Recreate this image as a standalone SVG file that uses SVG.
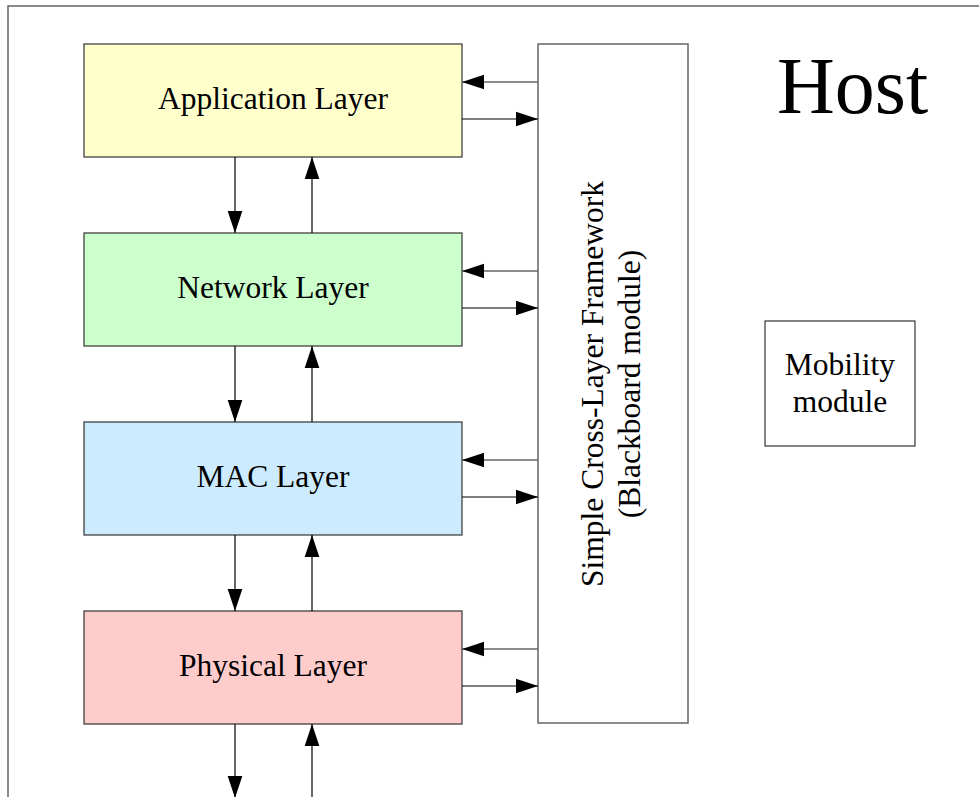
<svg xmlns="http://www.w3.org/2000/svg" width="979" height="797" viewBox="0 0 979 797">
<style>
text{font-family:"Liberation Serif","Times New Roman",serif;fill:#000}
.lbl{font-size:31.5px;text-anchor:middle}
.box{stroke:#333;stroke-width:1.2}
.ln{stroke:#000;stroke-width:1.2;fill:none;marker-end:url(#ah)}
.lg{stroke:#666;stroke-width:1.5;fill:none;marker-end:url(#ah)}
</style>
<defs>
<marker id="ah" markerUnits="userSpaceOnUse" markerWidth="22" markerHeight="16" viewBox="0 0 21 14" refX="21" refY="7" orient="auto">
<path d="M0,0 L21,7 L0,14 Z" fill="#000"/>
</marker>
</defs>
<rect x="8" y="6" width="1000" height="1000" fill="#fff" stroke="#666" stroke-width="1.5"/>
<g id="app"><rect class="box" x="84" y="44" width="378" height="113" fill="#FFFFCC"/><text class="lbl" x="273" y="109">Application Layer</text></g>
<g id="net"><rect class="box" x="84" y="233" width="378" height="113" fill="#CCFFCC"/><text class="lbl" x="273" y="298">Network Layer</text></g>
<g id="mac"><rect class="box" x="84" y="422" width="378" height="113" fill="#CCEBFF"/><text class="lbl" x="273" y="487">MAC Layer</text></g>
<g id="phy"><rect class="box" x="84" y="611" width="378" height="113" fill="#FFCCCC"/><text class="lbl" x="273" y="676">Physical Layer</text></g>
<g id="framework"><rect x="538" y="44" width="150" height="679" fill="#fff" stroke="#666" stroke-width="1.5"/>
<g transform="translate(613,384) rotate(-90)"><text class="lbl" x="0" y="-10">Simple Cross-Layer Framework</text><text class="lbl" x="0" y="27">(Blackboard module)</text></g></g>
<g id="mobility"><rect x="765" y="321" width="150" height="125" fill="#fff" stroke="#333" stroke-width="1.2"/><text class="lbl" x="840" y="375">Mobility</text><text class="lbl" x="840" y="412">module</text></g>
<g id="host"><text x="777" y="113" style="font-size:80px">Host</text></g>
<g id="connectors">
<path class="ln" d="M235,157 V233"/><path class="ln" d="M312,233 V157"/>
<path class="ln" d="M235,346 V422"/><path class="ln" d="M312,422 V346"/>
<path class="ln" d="M235,535 V611"/><path class="ln" d="M312,611 V535"/>
<path class="ln" d="M235,724 V798"/><path class="ln" d="M312,800 V724"/>
<path class="lg" d="M538,82 H462"/><path class="ln" d="M462,119 H538"/>
<path class="lg" d="M538,271 H462"/><path class="ln" d="M462,308 H538"/>
<path class="lg" d="M538,460 H462"/><path class="ln" d="M462,497 H538"/>
<path class="lg" d="M538,649 H462"/><path class="ln" d="M462,686 H538"/>
</g>
</svg>
